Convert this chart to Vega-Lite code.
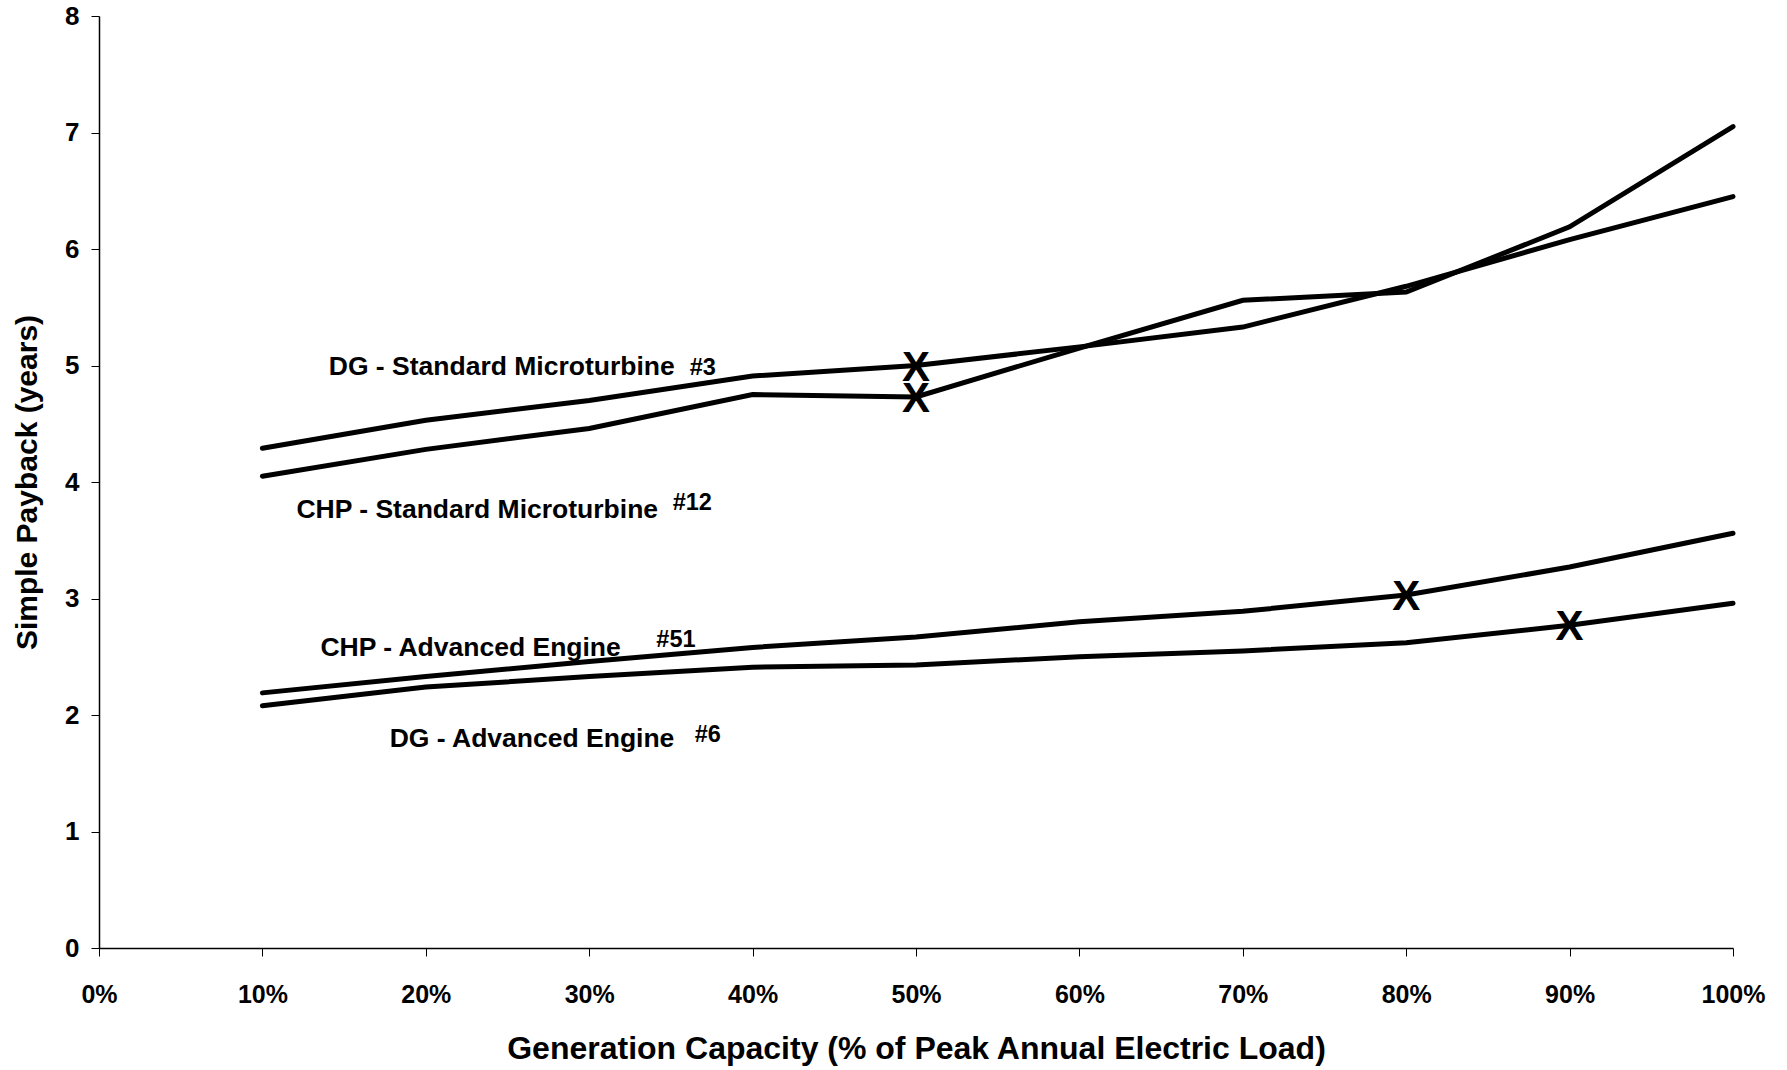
{
  "$schema": "https://vega.github.io/schema/vega-lite/v6.json",
  "width": 1634,
  "height": 932,
  "autosize": {"type": "none"},
  "padding": {"left": 99, "top": 16, "right": 54, "bottom": 122},
  "background": "white",
  "config": {"view": {"stroke": null}, "font": "Liberation Sans"},
  "datasets": {
    "lines": [
      {"series": "DG - Standard Microturbine", "x": 10, "y": 4.29, "marked": false},
      {"series": "DG - Standard Microturbine", "x": 20, "y": 4.53, "marked": false},
      {"series": "DG - Standard Microturbine", "x": 30, "y": 4.70, "marked": false},
      {"series": "DG - Standard Microturbine", "x": 40, "y": 4.91, "marked": false},
      {"series": "DG - Standard Microturbine", "x": 50, "y": 5.00, "marked": true},
      {"series": "DG - Standard Microturbine", "x": 60, "y": 5.16, "marked": false},
      {"series": "DG - Standard Microturbine", "x": 70, "y": 5.33, "marked": false},
      {"series": "DG - Standard Microturbine", "x": 80, "y": 5.68, "marked": false},
      {"series": "DG - Standard Microturbine", "x": 90, "y": 6.08, "marked": false},
      {"series": "DG - Standard Microturbine", "x": 100, "y": 6.45, "marked": false},
      {"series": "CHP - Standard Microturbine", "x": 10, "y": 4.05, "marked": false},
      {"series": "CHP - Standard Microturbine", "x": 20, "y": 4.28, "marked": false},
      {"series": "CHP - Standard Microturbine", "x": 30, "y": 4.46, "marked": false},
      {"series": "CHP - Standard Microturbine", "x": 40, "y": 4.75, "marked": false},
      {"series": "CHP - Standard Microturbine", "x": 50, "y": 4.73, "marked": true},
      {"series": "CHP - Standard Microturbine", "x": 60, "y": 5.15, "marked": false},
      {"series": "CHP - Standard Microturbine", "x": 70, "y": 5.56, "marked": false},
      {"series": "CHP - Standard Microturbine", "x": 80, "y": 5.63, "marked": false},
      {"series": "CHP - Standard Microturbine", "x": 90, "y": 6.19, "marked": false},
      {"series": "CHP - Standard Microturbine", "x": 100, "y": 7.05, "marked": false},
      {"series": "CHP - Advanced Engine", "x": 10, "y": 2.19, "marked": false},
      {"series": "CHP - Advanced Engine", "x": 20, "y": 2.33, "marked": false},
      {"series": "CHP - Advanced Engine", "x": 30, "y": 2.46, "marked": false},
      {"series": "CHP - Advanced Engine", "x": 40, "y": 2.58, "marked": false},
      {"series": "CHP - Advanced Engine", "x": 50, "y": 2.67, "marked": false},
      {"series": "CHP - Advanced Engine", "x": 60, "y": 2.80, "marked": false},
      {"series": "CHP - Advanced Engine", "x": 70, "y": 2.89, "marked": false},
      {"series": "CHP - Advanced Engine", "x": 80, "y": 3.03, "marked": true},
      {"series": "CHP - Advanced Engine", "x": 90, "y": 3.27, "marked": false},
      {"series": "CHP - Advanced Engine", "x": 100, "y": 3.56, "marked": false},
      {"series": "DG - Advanced Engine", "x": 10, "y": 2.08, "marked": false},
      {"series": "DG - Advanced Engine", "x": 20, "y": 2.24, "marked": false},
      {"series": "DG - Advanced Engine", "x": 30, "y": 2.33, "marked": false},
      {"series": "DG - Advanced Engine", "x": 40, "y": 2.41, "marked": false},
      {"series": "DG - Advanced Engine", "x": 50, "y": 2.43, "marked": false},
      {"series": "DG - Advanced Engine", "x": 60, "y": 2.50, "marked": false},
      {"series": "DG - Advanced Engine", "x": 70, "y": 2.55, "marked": false},
      {"series": "DG - Advanced Engine", "x": 80, "y": 2.62, "marked": false},
      {"series": "DG - Advanced Engine", "x": 90, "y": 2.77, "marked": true},
      {"series": "DG - Advanced Engine", "x": 100, "y": 2.96, "marked": false}
    ],
    "labels": [
      {"label": "DG - Standard Microturbine", "kind": "name", "x": 14.06, "y": 4.92},
      {"label": "#3", "kind": "number", "x": 36.15, "y": 4.92},
      {"label": "CHP - Standard Microturbine", "kind": "name", "x": 12.08, "y": 3.69},
      {"label": "#12", "kind": "number", "x": 35.11, "y": 3.76},
      {"label": "CHP - Advanced Engine", "kind": "name", "x": 13.55, "y": 2.506},
      {"label": "#51", "kind": "number", "x": 34.11, "y": 2.586},
      {"label": "DG - Advanced Engine", "kind": "name", "x": 17.79, "y": 1.725},
      {"label": "#6", "kind": "number", "x": 36.46, "y": 1.77}
    ]
  },
  "layer": [
    {
      "data": {"name": "lines"},
      "mark": {"type": "line", "color": "black", "strokeWidth": 5, "strokeCap": "round"},
      "encoding": {
        "x": {
          "field": "x", "type": "quantitative",
          "scale": {"domain": [0, 100], "nice": false},
          "axis": {
            "values": [0, 10, 20, 30, 40, 50, 60, 70, 80, 90, 100],
            "labelExpr": "datum.value + '%'",
            "title": "Generation Capacity (% of Peak Annual Electric Load)",
            "grid": false,
            "domainColor": "black", "domainWidth": 1.5,
            "tickColor": "black", "tickWidth": 1, "tickSize": 8,
            "labelFont": "Liberation Sans", "labelFontSize": 25, "labelFontWeight": "bold", "labelColor": "black",
            "labelPadding": 26, "labelFlush": false, "labelOverlap": false,
            "titleFont": "Liberation Sans", "titleFontSize": 32, "titleFontWeight": "bold", "titleColor": "black",
            "titleY": 85
          }
        },
        "y": {
          "field": "y", "type": "quantitative",
          "scale": {"domain": [0, 8], "nice": false},
          "axis": {
            "values": [0, 1, 2, 3, 4, 5, 6, 7, 8],
            "format": "d",
            "title": "Simple Payback (years)",
            "grid": false,
            "domainColor": "black", "domainWidth": 1.5,
            "tickColor": "black", "tickWidth": 1, "tickSize": 8,
            "labelFont": "Liberation Sans", "labelFontSize": 26, "labelFontWeight": "bold", "labelColor": "black",
            "labelPadding": 12, "labelFlush": false, "labelOverlap": false,
            "titleFont": "Liberation Sans", "titleFontSize": 30, "titleFontWeight": "bold", "titleColor": "black",
            "titleX": -57, "titleY": 466
          }
        },
        "detail": {"field": "series", "type": "nominal"}
      }
    },
    {
      "data": {"name": "lines"},
      "transform": [{"filter": "datum.marked"}],
      "mark": {"type": "text", "text": "X", "font": "Liberation Sans", "fontWeight": "bold", "fontSize": 42, "baseline": "middle", "align": "center", "dy": 2, "color": "black"},
      "encoding": {
        "x": {"field": "x", "type": "quantitative"},
        "y": {"field": "y", "type": "quantitative"}
      }
    },
    {
      "data": {"name": "labels"},
      "transform": [{"filter": "datum.kind == 'name'"}],
      "mark": {"type": "text", "align": "left", "baseline": "alphabetic", "font": "Liberation Sans", "fontWeight": "bold", "fontSize": 26.5, "color": "black"},
      "encoding": {
        "x": {"field": "x", "type": "quantitative"},
        "y": {"field": "y", "type": "quantitative"},
        "text": {"field": "label"}
      }
    },
    {
      "data": {"name": "labels"},
      "transform": [{"filter": "datum.kind == 'number'"}],
      "mark": {"type": "text", "align": "left", "baseline": "alphabetic", "font": "Liberation Sans", "fontWeight": "bold", "fontSize": 23.5, "color": "black"},
      "encoding": {
        "x": {"field": "x", "type": "quantitative"},
        "y": {"field": "y", "type": "quantitative"},
        "text": {"field": "label"}
      }
    }
  ]
}
